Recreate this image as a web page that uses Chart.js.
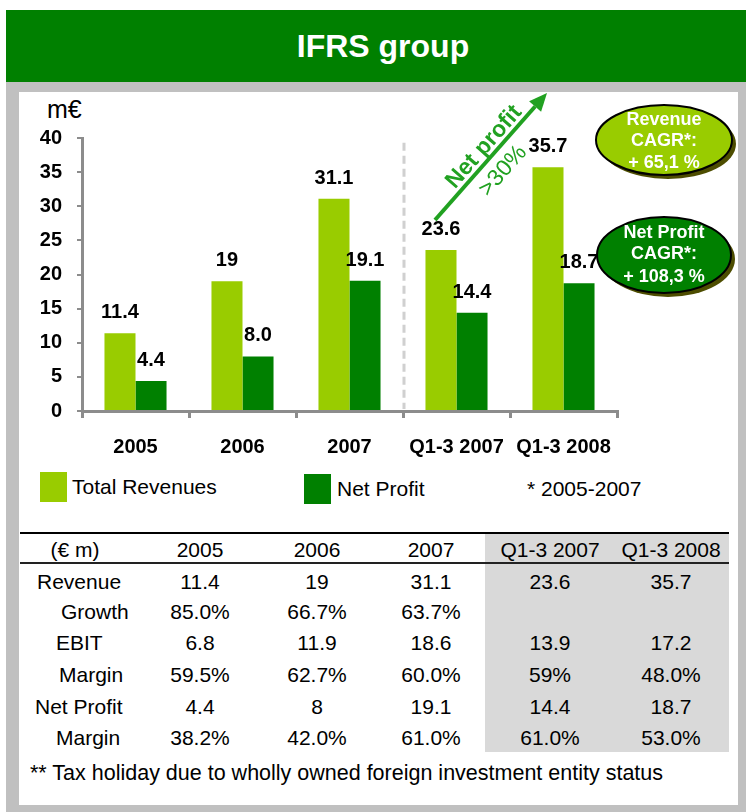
<!DOCTYPE html>
<html>
<head>
<meta charset="utf-8">
<script src="https://cdn.jsdelivr.net/npm/chart.js@4.4.1/dist/chart.umd.min.js"></script>
<style>
  body { margin: 0; width: 746px; height: 812px; position: relative; background: #fff; overflow: hidden;
         font-family: "Liberation Sans", Arial, sans-serif; color: #000; }
  .abs { position: absolute; white-space: nowrap; }
  #header { left: 6px; top: 10px; width: 740px; height: 72px; background: #008000; color: #fff;
            font-weight: bold; font-size: 32px; line-height: 72px; text-align: center;
            padding-left: 14px; box-sizing: border-box; }
  #frame { left: 6px; top: 82px; width: 740px; height: 730px; background: #c0c0c0; }
  #panel { left: 19px; top: 92px; width: 719px; height: 713px; background: #fff; }
  #chart { position: absolute; left: 0; top: 0; }
  .txt { font-size: 21px; line-height: 24px; }
  .cell { font-size: 21px; line-height: 24px; width: 130px; text-align: center; }
  .sw { width: 27px; height: 30px; }
</style>
</head>
<body>
<div id="header" class="abs">IFRS group</div>
<div id="frame" class="abs"></div>
<div id="panel" class="abs"></div>

<div class="abs" style="left:47px; top:94px; font-size:25px; line-height:30px;">m€</div>

<!-- legend -->
<div class="abs sw" style="left:40px; top:472px; background:#99cc00;"></div>
<div class="abs txt" style="left:72px; top:475px;">Total Revenues</div>
<div class="abs sw" style="left:304px; top:474px; background:#008000;"></div>
<div class="abs txt" style="left:337px; top:477px;">Net Profit</div>
<div class="abs txt" style="left:527px; top:477px;">* 2005-2007</div>

<!-- table background and rules -->
<div class="abs" style="left:485px; top:534px; width:244px; height:218px; background:#d9d9d9;"></div>
<div class="abs" style="left:20px; top:532px; width:709px; height:2px; background:#000;"></div>
<div class="abs" style="left:20px; top:562px; width:709px; height:2px; background:#222;"></div>
<div id="table"></div>
<div class="abs txt" style="left:30px; top:761px; font-size:21.5px;">** Tax holiday due to wholly owned foreign investment entity status</div>

<canvas id="chart" width="746" height="480"></canvas>

<script>
// chart data
const categories = ["2005", "2006", "2007", "Q1-3 2007", "Q1-3 2008"];
const totalRevenues = [11.4, 19, 31.1, 23.6, 35.7];
const netProfit = [4.4, 8.0, 19.1, 14.4, 18.7];
const yTicks = [0, 5, 10, 15, 20, 25, 30, 35, 40];

// table data
const tableHeader = ["(€ m)", "2005", "2006", "2007", "Q1-3 2007", "Q1-3 2008"];
const rowLabels = ["Revenue", "Growth", "EBIT", "Margin", "Net Profit", "Margin"];
const revenueRow = ["11.4", "19", "31.1", "23.6", "35.7"];
const growthRow = ["85.0%", "66.7%", "63.7%", "", ""];
const ebitRow = ["6.8", "11.9", "18.6", "13.9", "17.2"];
const ebitMarginRow = ["59.5%", "62.7%", "60.0%", "59%", "48.0%"];
const netProfitRow = ["4.4", "8", "19.1", "14.4", "18.7"];
const netMarginRow = ["38.2%", "42.0%", "61.0%", "61.0%", "53.0%"];

const LIGHT = "#99cc00";
const DARK = "#008000";
const ARROW = "#21a121";
const FONT = "'Liberation Sans', Arial, sans-serif";

// build the table
const table = document.getElementById("table");
const colX = [75, 200, 317, 431, 550, 671];
const rowY = [582, 612, 643, 675, 707, 738];
const labelX = [37, 61, 56, 59, 35, 56];
const rows = [revenueRow, growthRow, ebitRow, ebitMarginRow, netProfitRow, netMarginRow];

function addCell(text, cx, cy) {
    const d = document.createElement("div");
    d.className = "abs cell";
    d.style.left = (cx - 65) + "px";
    d.style.top = (cy - 12) + "px";
    d.textContent = text;
    table.appendChild(d);
}
tableHeader.forEach((h, i) => addCell(h, colX[i], 550));
rows.forEach((row, r) => {
    const l = document.createElement("div");
    l.className = "abs txt";
    l.style.left = labelX[r] + "px";
    l.style.top = (rowY[r] - 12) + "px";
    l.textContent = rowLabels[r];
    table.appendChild(l);
    row.forEach((v, c) => addCell(v, colX[c + 1], rowY[r]));
});

// value labels, divider, arrow and ovals
const decor = {
    id: "decor",
    beforeDatasetsDraw(chart) {
        const { ctx, scales: { x, y } } = chart;
        const xd = (x.getPixelForValue(2) + x.getPixelForValue(3)) / 2 + 1;
        ctx.save();
        ctx.strokeStyle = "#d0d0d0";
        ctx.lineWidth = 3;
        ctx.setLineDash([8, 5]);
        ctx.beginPath();
        ctx.moveTo(xd, y.getPixelForValue(39.3));
        ctx.lineTo(xd, y.bottom - 2);
        ctx.stroke();
        ctx.restore();
    },
    afterDatasetsDraw(chart) {
        const ctx = chart.ctx;
        ctx.save();
        ctx.font = "bold 20px " + FONT;
        ctx.fillStyle = "#000";
        ctx.textAlign = "center";
        ctx.textBaseline = "alphabetic";
        chart.data.datasets.forEach((ds, i) => {
            chart.getDatasetMeta(i).data.forEach((bar, j) => {
                const v = ds.data[j];
                const txt = i === 0 ? String(v) : v.toFixed(1);
                ctx.fillText(txt, bar.x, bar.y - 15);
            });
        });
        ctx.restore();
    },
    afterDraw(chart) {
        const ctx = chart.ctx;
        ctx.save();
        // growth arrow
        const x0 = 435, y0 = 220, x1 = 547, y1 = 93;
        const a = Math.atan2(y1 - y0, x1 - x0);
        const hl = 18, hw = 8;
        const bx = x1 - hl * Math.cos(a), by = y1 - hl * Math.sin(a);
        ctx.strokeStyle = ARROW;
        ctx.fillStyle = ARROW;
        ctx.lineWidth = 4;
        ctx.beginPath();
        ctx.moveTo(x0, y0);
        ctx.lineTo(bx, by);
        ctx.stroke();
        ctx.beginPath();
        ctx.moveTo(x1, y1);
        ctx.lineTo(bx + hw * Math.sin(a), by - hw * Math.cos(a));
        ctx.lineTo(bx - hw * Math.sin(a), by + hw * Math.cos(a));
        ctx.closePath();
        ctx.fill();

        ctx.textAlign = "center";
        ctx.textBaseline = "middle";
        ctx.save();
        ctx.translate(484, 147);
        ctx.rotate(a);
        ctx.font = "bold 23px " + FONT;
        ctx.fillText("Net profit", 0, 0);
        ctx.restore();
        ctx.save();
        ctx.translate(503, 171);
        ctx.rotate(a);
        ctx.font = "23px " + FONT;
        ctx.fillText(">30%", 0, 0);
        ctx.restore();

        // CAGR ovals
        function oval(cx, cy, rx, ry, fill, lines, ys) {
            ctx.fillStyle = "#4d4d00";
            ctx.beginPath();
            ctx.ellipse(cx + 4, cy + 4, rx, ry, 0, 0, Math.PI * 2);
            ctx.fill();
            ctx.fillStyle = fill;
            ctx.strokeStyle = "#000";
            ctx.lineWidth = 2;
            ctx.beginPath();
            ctx.ellipse(cx, cy, rx, ry, 0, 0, Math.PI * 2);
            ctx.fill();
            ctx.stroke();
            ctx.fillStyle = "#fff";
            ctx.font = "bold 18px " + FONT;
            lines.forEach((t, i) => ctx.fillText(t, cx, ys[i]));
        }
        oval(664, 140, 68, 35, LIGHT, ["Revenue", "CAGR*:", "+ 65,1 %"], [120, 141, 163]);
        oval(664, 255, 67, 38, DARK, ["Net Profit", "CAGR*:", "+ 108,3 %"], [233, 254, 277]);
        ctx.restore();
    }
};

new Chart(document.getElementById("chart"), {
    type: "bar",
    data: {
        labels: categories,
        datasets: [
            { label: "Total Revenues", data: totalRevenues, backgroundColor: LIGHT, borderWidth: 0 },
            { label: "Net Profit", data: netProfit, backgroundColor: DARK, borderWidth: 0 },
        ],
    },
    options: {
        responsive: false,
        animation: false,
        categoryPercentage: 0.58,
        barPercentage: 1,
        layout: { padding: { left: 0, right: 129, top: 138, bottom: 0 } },
        plugins: { legend: { display: false }, tooltip: { enabled: false } },
        scales: {
            x: {
                afterFit: (s) => { s.height = 69; },
                border: { color: "#8c8c8c", width: 3 },
                grid: { offset: true, drawOnChartArea: false, drawTicks: true, tickLength: 7, color: "#8c8c8c", lineWidth: 3 },
                ticks: { autoSkip: false, maxRotation: 0, padding: 17, color: "#000",
                         font: { family: FONT, size: 20, weight: "bold" } },
            },
            y: {
                min: 0,
                max: 40,
                afterFit: (s) => { s.width = 82; },
                afterBuildTicks: (s) => { s.ticks = yTicks.map(v => ({ value: v })); },
                border: { color: "#8c8c8c", width: 3 },
                grid: { drawOnChartArea: false, drawTicks: true, tickLength: 5, color: "#8c8c8c", lineWidth: 2 },
                ticks: { padding: 15, color: "#000", font: { family: FONT, size: 20, weight: "bold" } },
            },
        },
    },
    plugins: [decor],
});
</script>
</body>
</html>
